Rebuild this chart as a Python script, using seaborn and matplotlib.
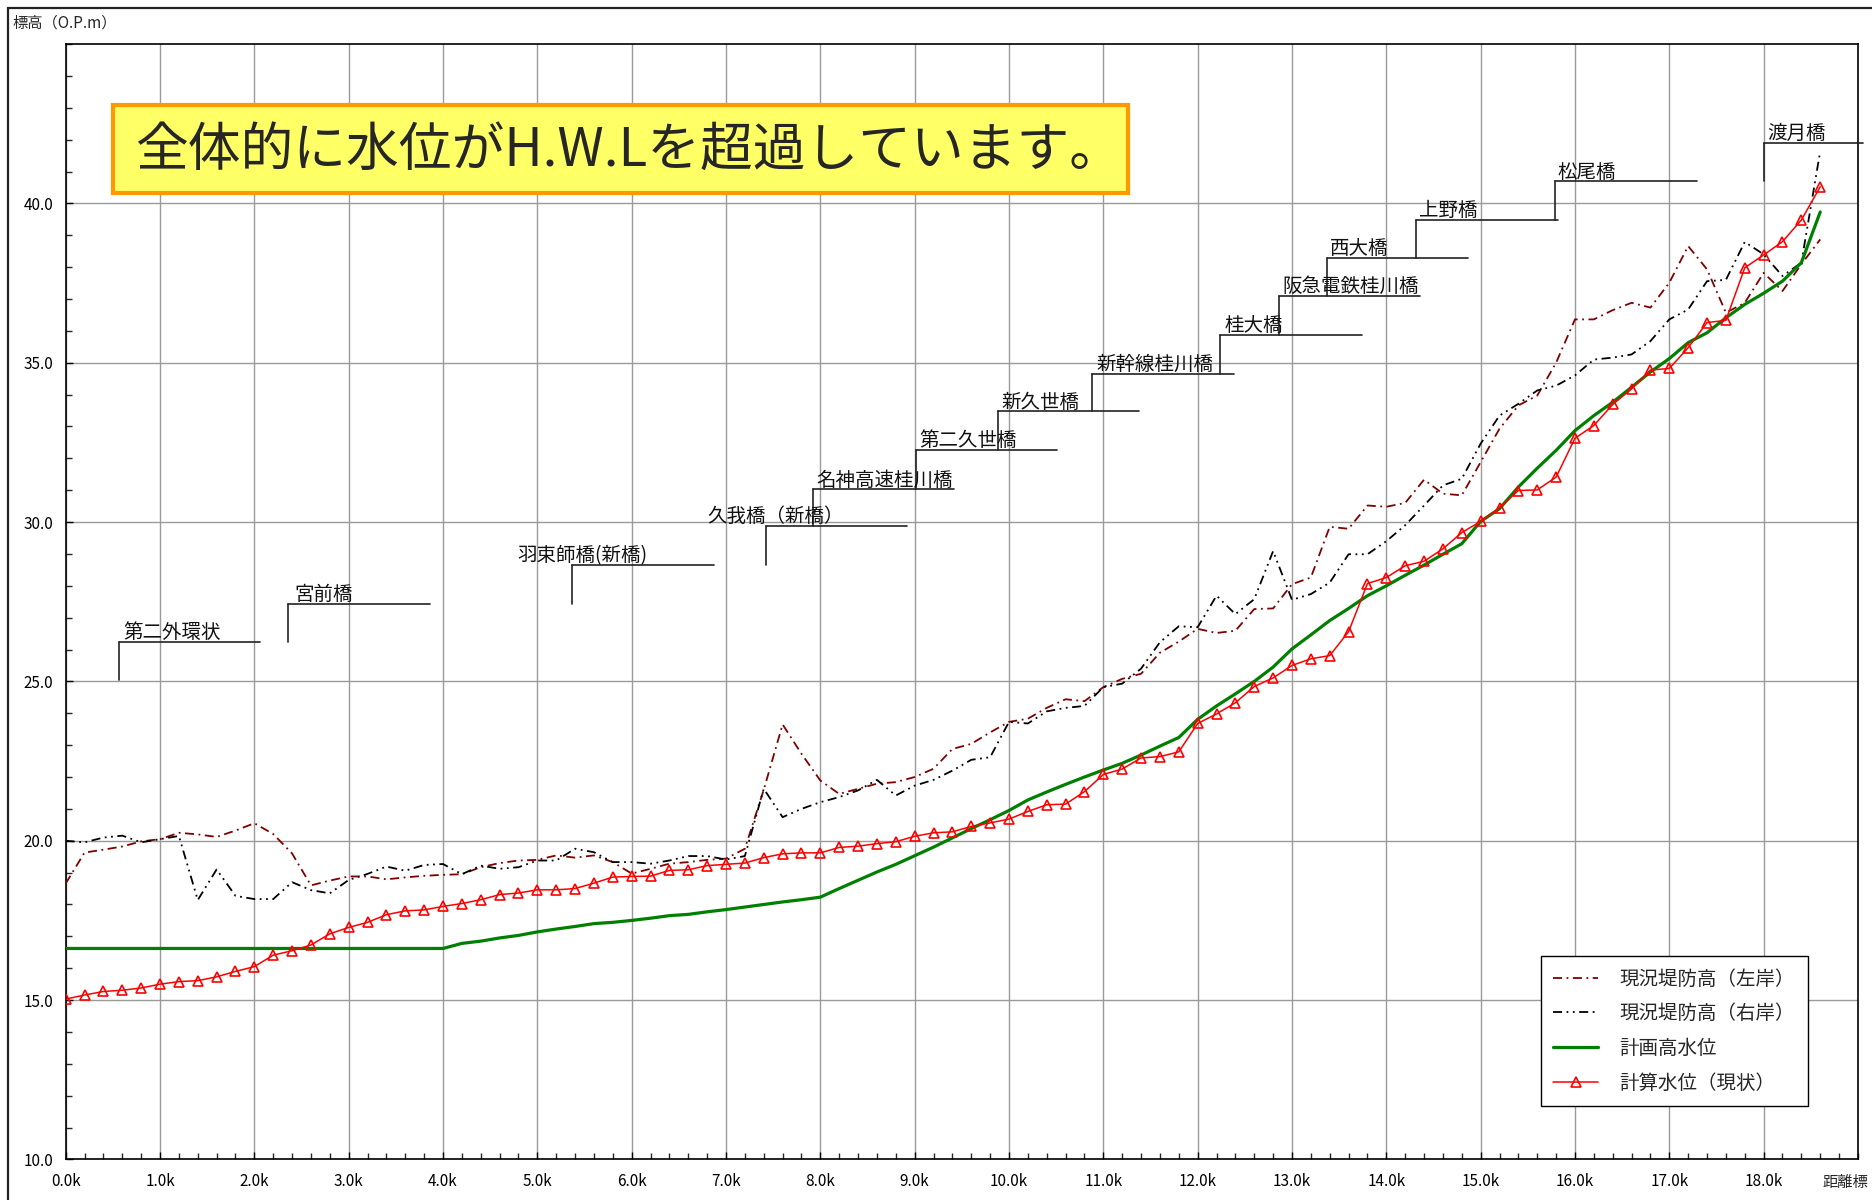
import numpy as np
import matplotlib
matplotlib.use("Agg")
import matplotlib.pyplot as plt
import seaborn as sns
from matplotlib.patches import Rectangle
from matplotlib.lines import Line2D
from matplotlib.ticker import MultipleLocator, FixedLocator, FuncFormatter

# 距離標 (km) 0.2k間隔
kyori = np.round(np.arange(0, 18.61, 0.2), 1)

# 計算水位（現状）
keisan_suii = [
    15.03, 15.16, 15.27, 15.31, 15.38, 15.50, 15.58, 15.61, 15.73, 15.90,
    16.05, 16.41, 16.55, 16.73, 17.08, 17.28, 17.44, 17.68, 17.80, 17.83,
    17.94, 18.03, 18.15, 18.31, 18.36, 18.46, 18.46, 18.50, 18.67, 18.86,
    18.88, 18.89, 19.07, 19.09, 19.22, 19.26, 19.30, 19.47, 19.59, 19.62,
    19.62, 19.79, 19.83, 19.91, 19.97, 20.14, 20.25, 20.28, 20.45, 20.56,
    20.68, 20.92, 21.13, 21.15, 21.54, 22.08, 22.25, 22.60, 22.64, 22.79,
    23.68, 23.98, 24.33, 24.84, 25.11, 25.50, 25.71, 25.81, 26.56, 28.07,
    28.26, 28.63, 28.77, 29.16, 29.67, 30.02, 30.45, 30.99, 31.01, 31.41,
    32.63, 33.03, 33.69, 34.18, 34.77, 34.82, 35.47, 36.26, 36.33, 37.98,
    38.38, 38.80, 39.48, 40.52,
]

# 計画高水位
keikaku_hwl = [
    16.62, 16.62, 16.62, 16.62, 16.62, 16.62, 16.62, 16.62, 16.62, 16.62,
    16.62, 16.62, 16.62, 16.62, 16.62, 16.62, 16.62, 16.62, 16.62, 16.62,
    16.62, 16.78, 16.85, 16.95, 17.03, 17.14, 17.23, 17.31, 17.40, 17.44,
    17.50, 17.57, 17.65, 17.69, 17.77, 17.84, 17.92, 18.00, 18.08, 18.15,
    18.23, 18.50, 18.76, 19.02, 19.26, 19.53, 19.80, 20.09, 20.38, 20.66,
    20.95, 21.28, 21.53, 21.77, 22.00, 22.22, 22.43, 22.69, 22.97, 23.24,
    23.81, 24.23, 24.61, 25.00, 25.45, 26.02, 26.46, 26.91, 27.29, 27.69,
    28.00, 28.33, 28.65, 28.99, 29.32, 30.02, 30.42, 31.10, 31.69, 32.25,
    32.87, 33.34, 33.76, 34.23, 34.71, 35.13, 35.63, 35.94, 36.41, 36.83,
    37.18, 37.56, 38.14, 39.73,
]

# 現況堤防高（左岸）
teibou_left = [
    18.66, 19.63, 19.72, 19.82, 19.98, 20.05, 20.25, 20.20, 20.12, 20.32,
    20.55, 20.21, 19.60, 18.60, 18.75, 18.88, 18.88, 18.79, 18.85, 18.90,
    18.93, 18.95, 19.17, 19.30, 19.38, 19.40, 19.54, 19.47, 19.54, 19.33,
    18.97, 19.12, 19.28, 19.33, 19.40, 19.44, 19.75, 21.60, 23.65, 22.73,
    21.89, 21.47, 21.63, 21.79, 21.84, 22.00, 22.26, 22.88, 23.04, 23.40,
    23.73, 23.83, 24.17, 24.44, 24.38, 24.82, 25.08, 25.24, 25.90, 26.25,
    26.65, 26.52, 26.59, 27.27, 27.29, 28.05, 28.26, 29.85, 29.79, 30.52,
    30.48, 30.60, 31.33, 30.89, 30.84, 31.88, 32.93, 33.66, 33.97, 35.00,
    36.36, 36.36, 36.65, 36.88, 36.73, 37.51, 38.66, 37.93, 36.57, 36.88,
    37.82, 37.25, 38.09, 38.87,
]

# 現況堤防高（右岸）
teibou_right = [
    20.00, 19.95, 20.10, 20.16, 19.95, 20.05, 20.15, 18.14, 19.10, 18.27,
    18.17, 18.17, 18.70, 18.45, 18.35, 18.77, 18.96, 19.19, 19.06, 19.24,
    19.27, 18.95, 19.22, 19.12, 19.17, 19.38, 19.38, 19.75, 19.64, 19.33,
    19.33, 19.28, 19.38, 19.52, 19.52, 19.41, 19.52, 21.63, 20.74, 21.00,
    21.21, 21.37, 21.58, 21.91, 21.42, 21.73, 21.91, 22.20, 22.54, 22.62,
    23.73, 23.68, 24.06, 24.17, 24.23, 24.82, 24.93, 25.40, 26.23, 26.73,
    26.70, 27.69, 27.11, 27.58, 29.09, 27.56, 27.74, 28.10, 28.99, 28.99,
    29.40, 29.90, 30.52, 31.15, 31.36, 32.46, 33.34, 33.71, 34.13, 34.28,
    34.60, 35.10, 35.16, 35.26, 35.68, 36.36, 36.67, 37.56, 37.60, 38.79,
    38.40, 37.72, 38.14, 41.64,
]

# 橋梁
bridge_names = ['第二外環状', '宮前橋', '羽束師橋(新橋)', '久我橋（新橋）', '名神高速桂川橋',
                '第二久世橋', '新久世橋', '新幹線桂川橋', '桂大橋', '阪急電鉄桂川橋',
                '西大橋', '上野橋', '松尾橋', '渡月橋']
bridge_km = [0.56, 2.36, 5.37, 7.42, 7.92, 9.01, 9.88, 10.88, 12.24, 12.86,
             13.37, 14.32, 15.79, 18.00]
bridge_levels = [25.05, 26.24, 27.44, 28.64, 29.87, 31.03, 32.27, 33.47, 34.66,
                 35.86, 37.10, 38.29, 39.49, 40.69, 41.89]
label_km = [0.61, 2.42, 4.79, 6.80, 7.96, 9.05, 9.92, 10.93, 12.29, 12.90,
            13.40, 14.35, 15.81, 18.04]

x_ticks = list(range(0, 19))
y_ticks = [10, 15, 20, 25, 30, 35, 40]

sns.set_theme(style="white")
plt.rcParams['font.family'] = ['Noto Sans CJK JP', 'DejaVu Sans']

fig = plt.figure(figsize=(18.72, 12), dpi=100)
ax = fig.add_axes([0.0351, 0.0338, 0.9574, 0.9295])

DARKRED = '#800000'
LS_LEFT = (0, (5, 2.5, 1, 2.5))
LS_RIGHT = (0, (5, 2.5, 1, 2.5, 1, 2.5))
sns.lineplot(x=kyori, y=teibou_left, ax=ax, color=DARKRED, lw=1.3,
             linestyle=LS_LEFT, zorder=3)
sns.lineplot(x=kyori, y=teibou_right, ax=ax, color='black', lw=1.3,
             linestyle=LS_RIGHT, zorder=3)
sns.lineplot(x=kyori, y=keikaku_hwl, ax=ax, color='#008000', lw=2.3, zorder=4)
sns.lineplot(x=kyori, y=keisan_suii, ax=ax, color='red', lw=1.1, marker='^',
             markersize=6.5, markerfacecolor='none', markeredgecolor='red',
             markeredgewidth=1.2, zorder=5)

# 橋梁の引き出し線とラベル
for i, name in enumerate(bridge_names):
    x0 = bridge_km[i]
    lo, hi = bridge_levels[i], bridge_levels[i + 1]
    ax.plot([x0, x0], [lo, hi], color='#222222', lw=1.2, zorder=6)
    ax.plot([x0, min(x0 + 1.5, 19.05)], [hi, hi], color='#222222', lw=1.2,
            zorder=6, clip_on=False)
    ax.text(label_km[i], hi + 0.12, name, fontsize=14, ha='left', va='baseline',
            color='#111111', zorder=7)

ax.set_xlim(0, 19.0)
ax.set_ylim(10, 45)
ax.xaxis.set_major_locator(FixedLocator(x_ticks))
ax.xaxis.set_minor_locator(MultipleLocator(0.2))
ax.yaxis.set_major_locator(FixedLocator(y_ticks))
ax.yaxis.set_minor_locator(MultipleLocator(1))
ax.xaxis.set_major_formatter(FuncFormatter(lambda v, p: f"{v:.1f}k"))
ax.yaxis.set_major_formatter(FuncFormatter(lambda v, p: f"{v:.1f}"))
ax.grid(True, which='major', color='#9a9a9a', lw=1.0)
ax.set_axisbelow(True)
ax.tick_params(which='major', direction='in', length=5, width=1, labelsize=11,
               colors='black')
ax.tick_params(axis='y', which='major', pad=9)
ax.tick_params(axis='x', which='major', pad=10)
ax.tick_params(which='minor', direction='in', length=4, width=1)
ax.tick_params(which='both', bottom=True, left=True, top=False, right=False)
for sp in ax.spines.values():
    sp.set_color('black')
    sp.set_linewidth(1.2)
ax.set_xlabel('')
ax.set_ylabel('')

handles = [
    Line2D([], [], color=DARKRED, lw=1.3, linestyle=LS_LEFT),
    Line2D([], [], color='black', lw=1.3, linestyle=LS_RIGHT),
    Line2D([], [], color='#008000', lw=2.3),
    Line2D([], [], color='red', lw=1.1, marker='^', markersize=6.5,
           markerfacecolor='none', markeredgecolor='red', markeredgewidth=1.2),
]
labels = ['現況堤防高（左岸）', '現況堤防高（右岸）', '計画高水位', '計算水位（現状）']
leg = ax.legend(handles, labels, loc='upper left', bbox_to_anchor=(0.823, 0.1824),
                fontsize=14, frameon=True, fancybox=False, framealpha=1,
                edgecolor='black', handlelength=2.3, handletextpad=1.1,
                labelspacing=0.7, borderpad=0.65, borderaxespad=0)
leg.get_frame().set_linewidth(1.0)
leg.set_zorder(10)

# 注記
fig.add_artist(Rectangle((0.0604, 0.8392), 0.5422, 0.0733, transform=fig.transFigure,
                         facecolor='#FFFF66', edgecolor='#FF9900', lw=3, zorder=5))
fig.text(0.336, 0.8745, '全体的に水位がH.W.Lを超過しています。', fontsize=38,
         ha='center', va='center', zorder=6)

fig.text(12 / 1872, 1 - 23 / 1200, '標高（O.P.m）', fontsize=11, va='center', ha='left')
fig.text(1822 / 1872, 1 - 1182 / 1200, '距離標', fontsize=11, va='center', ha='left')

# 外枠
fig.add_artist(Rectangle((8 / 1872, -0.05), 1.2, 1.05 - 8 / 1200,
                         transform=fig.transFigure, facecolor='none',
                         edgecolor='#222222', lw=1.6, zorder=1))

fig.savefig('out.png', dpi=100)
